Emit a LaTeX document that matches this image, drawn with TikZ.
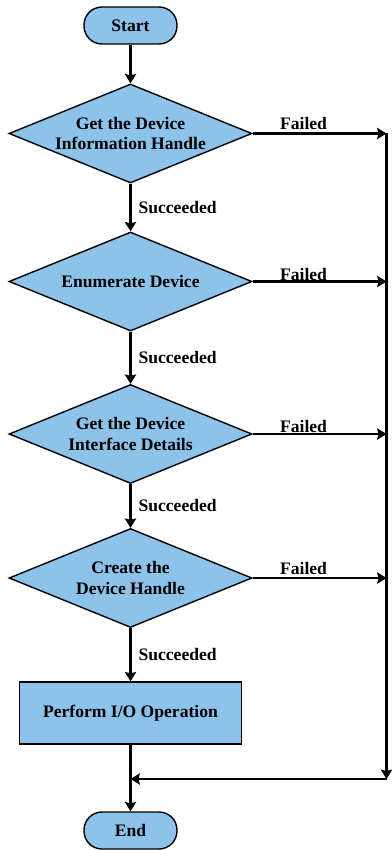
\documentclass[tikz,border=0pt]{standalone}
\usepackage{fontspec}
\setmainfont{Liberation Serif}
\usetikzlibrary{arrows.meta}
\usetikzlibrary{shapes.geometric}
\usetikzlibrary{calc,positioning}

\definecolor{boxblue}{RGB}{141,194,234}

\tikzset{
    txt/.style={font=\bfseries\fontsize{15}{17.5}\selectfont},
    terminal/.style={txt, draw, line width=1.2pt, fill=boxblue, rounded corners=0.54cm,
        minimum width=2.79cm, minimum height=1.11cm, inner sep=0pt},
    decision/.style={txt, diamond, draw, line width=1.2pt, fill=boxblue, aspect=2.45,
        minimum width=7.29cm, minimum height=2.97cm, inner sep=0pt, align=center},
    process/.style={txt, draw, line width=1.2pt, fill=boxblue,
        minimum width=6.66cm, minimum height=1.86cm, inner sep=0pt},
    flow/.style={->, line width=1.8pt},
    lbl/.style={txt, inner sep=2pt}
}

\begin{document}
\begin{tikzpicture}[>={Stealth[length=0.28cm, width=0.34cm, inset=0.04cm]}, x=0.03cm, y=-0.03cm]

    \useasboundingbox (0,0) rectangle (391,850);

    \node[terminal] (start) at (130.5,25.5) {Start};
    \node[decision] (d1) at (130.5,133.5) {Get the Device\\Information Handle};
    \node[decision] (d2) at (130.5,281.5) {Enumerate Device};
    \node[decision] (d3) at (130.5,434) {Get the Device\\Interface Details};
    \node[decision] (d4) at (130.5,578) {Create the\\Device Handle};
    \node[process] (io) at (130.5,713) {Perform I/O Operation};
    \node[terminal] (end) at (130.5,830.5) {End};

    \coordinate (r1) at (386.5,133.5);
    \coordinate (r2) at (386.5,281.5);
    \coordinate (r3) at (386.5,434);
    \coordinate (r4) at (386.5,578);
    \coordinate (rb) at (386.5,779);
    \coordinate (m) at (130.5,779);

    \draw[flow] (start) -- (d1);
    \draw[flow] (d1) -- node[lbl, right, xshift=4]{Succeeded} (d2);
    \draw[flow] (d2) -- node[lbl, right, xshift=4]{Succeeded} (d3);
    \draw[flow] (d3) -- node[lbl, right, xshift=4]{Succeeded} (d4);
    \draw[flow] (d4) -- node[lbl, right, xshift=4]{Succeeded} (io);
    \draw[flow] (io) -- (end);

    \draw[flow] (d1.east) -- node[lbl, above, pos=0.38]{Failed} (r1);
    \draw[flow] (d2.east) -- node[lbl, above, pos=0.38, inner sep=0pt]{Failed} (r2);
    \draw[flow] (d3.east) -- node[lbl, above, pos=0.38, inner sep=0pt]{Failed} (r3);
    \draw[flow] (d4.east) -- node[lbl, above, pos=0.38]{Failed} (r4);

    \draw[flow] (r1) -- (rb);
    \draw[flow] (rb) -- (m);

\end{tikzpicture}
\end{document}
